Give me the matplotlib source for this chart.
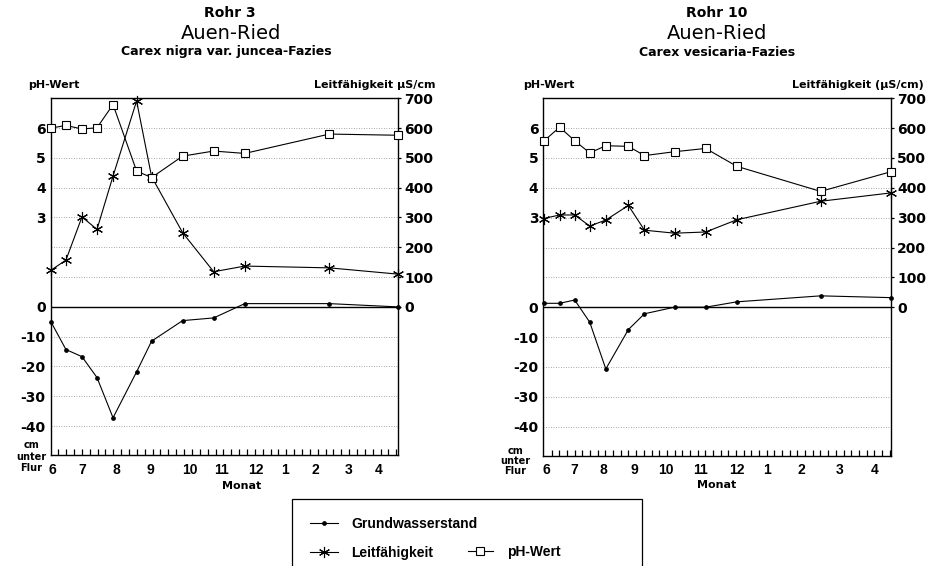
import numpy as np
import matplotlib
matplotlib.use("Agg")
import matplotlib.pyplot as plt
from matplotlib.lines import Line2D

W, H = 935, 566

# x values are days counted from the "6" (June) label of each panel
months = ['6', '7', '8', '9', '10', '11', '12', '1', '2', '3', '4']

# Rohr 3 - Carex nigra var. juncea-Fazies
days_r3 = [-1, 13, 28, 42, 57, 79, 93, 122, 151, 180, 259, 323]
ph_r3 = [6.00, 6.09, 5.97, 6.01, 6.79, 4.56, 4.34, 5.06, 5.23, 5.15, 5.80, 5.76]
cond_r3 = [123, 157, 302, 260, 439, 691, 437, 249, 118, 137, 131, 110]
gw_r3 = [-5.0, -14.3, -16.7, -23.7, -37.2, -21.8, -11.5, -4.6, -3.7, 1.1, 1.1, 0.0]
month_pos_r3 = [0, 28, 60, 92, 129, 158, 190, 218, 246, 277, 305]

# Rohr 10 - Carex vesicaria-Fazies
days_r10 = [-3, 12, 26, 40, 55, 76, 91, 119, 148, 177, 255, 320.5]
ph_r10 = [5.56, 6.03, 5.58, 5.17, 5.41, 5.39, 5.08, 5.21, 5.32, 4.72, 3.88, 4.54]
cond_r10 = [297, 309, 309, 272, 292, 341, 258, 248, 252, 293, 355, 383]
gw_r10 = [1.3, 1.3, 2.4, -5.0, -20.7, -7.5, -2.2, 0.0, 0.0, 1.8, 3.8, 3.2]
month_pos_r10 = [0, 26, 53, 82, 111, 143, 177, 205, 237, 273, 305]

plt.rcParams['font.family'] = ['DejaVu Sans']

fig = plt.figure(figsize=(W / 100, H / 100), dpi=100)

GW_STYLE = dict(color='black', lw=0.8, marker='o', ms=2.4)
COND_STYLE = dict(color='black', lw=0.8, marker=(6, 2, 0), ms=8, mew=0.8)
PH_STYLE = dict(color='black', lw=0.8, marker='s', ms=6, mfc='white', mec='black', mew=0.8)
GRID = dict(color='0.55', lw=0.6, ls=(0, (1, 2)))
NUM = dict(fontweight='bold', fontsize=10, fontfamily='DejaVu Sans')


def panel(box, days, ph, cond, gw, month_pos, xlim, minor):
    l, r, t, b = box
    ax = fig.add_axes([l / W, 1 - b / H, (r - l) / W, (b - t) / H])
    ax_c = ax.twinx()
    ax_p = ax.twinx()

    ax.set_xlim(xlim)
    ax.set_ylim(-49.7, 70)
    ax_c.set_ylim(-497, 700)
    ax_p.set_ylim(-4.97, 7.0)

    # groundwater ticks (cm) on the left, grid lines at every 10 cm / 100 uS
    gw_ticks = list(range(-40, 61, 10))
    ax.set_yticks(gw_ticks, labels=[str(v) if v <= 0 else '' for v in gw_ticks], **NUM)
    ax.tick_params(axis='y', length=0, pad=3.5)
    ax.grid(axis='y', **GRID)
    ax.set_axisbelow(True)
    ax.axhline(0, color='black', lw=1.0)

    ax_p.yaxis.tick_left()
    ax_p.set_yticks([3, 4, 5, 6], labels=['3', '4', '5', '6'], **NUM)
    ax_p.tick_params(axis='y', length=0, pad=3.5)

    ax_c.set_yticks(range(0, 701, 100), labels=[str(v) for v in range(0, 701, 100)], **NUM)
    ax_c.tick_params(axis='y', direction='out', length=2.5, width=0.9, pad=2)

    ax.set_xticks(month_pos, labels=months, fontweight='bold', fontsize=10,
                  fontfamily='Liberation Sans')
    ax.set_xticks(minor, minor=True)
    ax.tick_params(axis='x', which='major', length=0, pad=5.5)
    ax.tick_params(axis='x', which='minor', direction='in', length=4.5, width=0.9)

    for a in (ax_c, ax_p):
        for s in a.spines.values():
            s.set_visible(False)
    for s in ax.spines.values():
        s.set_linewidth(1.0)

    ax.plot(days, gw, clip_on=False, **GW_STYLE)
    ax_c.plot(days, cond, clip_on=False, **COND_STYLE)
    ax_p.plot(days, ph, clip_on=False, **PH_STYLE)
    return ax


panel((50.5, 398.3, 98.3, 455.0), days_r3, ph_r3, cond_r3, gw_r3, month_pos_r3,
      (-1.4, 323.4), np.arange(5.9, 323, 7.34))
panel((543.3, 891.0, 98.3, 455.5), days_r10, ph_r10, cond_r10, gw_r10, month_pos_r10,
      (-3.2, 320.5), np.arange(4.6, 320, 7.15))


def ftext(x, y, s, **kw):
    fig.text(x / W, 1 - y / H, s, **kw)


# titles
ftext(230, 17.3, 'Rohr 3', ha='center', va='baseline', fontsize=10, fontweight='bold')
ftext(231, 39.3, 'Auen-Ried', ha='center', va='baseline', fontsize=14)
ftext(226, 55.5, 'Carex nigra var. juncea-Fazies', ha='center', va='baseline',
      fontsize=9, fontweight='bold')
ftext(716.7, 17.3, 'Rohr 10', ha='center', va='baseline', fontsize=10, fontweight='bold')
ftext(716.7, 39.3, 'Auen-Ried', ha='center', va='baseline', fontsize=14)
ftext(717.5, 55.5, 'Carex vesicaria-Fazies', ha='center', va='baseline',
      fontsize=9, fontweight='bold')

LAB = dict(fontsize=8, fontweight='bold', va='baseline')
ftext(28, 88.3, 'pH-Wert', ha='left', **LAB)
ftext(435, 88.3, 'Leitfähigkeit µS/cm', ha='right', **LAB)
ftext(523.3, 87.5, 'pH-Wert', ha='left', **LAB)
ftext(923.3, 87.5, 'Leitfähigkeit (µS/cm)', ha='right', **LAB)
ftext(242, 489, 'Monat', ha='center', **LAB)
ftext(716.3, 488.3, 'Monat', ha='center', **LAB)
ftext(31, 456.5, 'cm\nunter\nFlur', ha='center', ma='center', linespacing=1.2,
      fontsize=7, fontweight='bold', va='center')
ftext(515, 461, 'cm\nunter\nFlur', ha='center', ma='center', linespacing=1.05,
      fontsize=7, fontweight='bold', va='center')

# legend
LEG_FONT = dict(family='Liberation Sans', weight='bold', size=10)
h_gw = Line2D([], [], **GW_STYLE)
h_cond = Line2D([], [], **COND_STYLE)
h_ph = Line2D([], [], **PH_STYLE)
leg = fig.legend(handles=[h_gw, h_cond], labels=['Grundwasserstand', 'Leitfähigkeit'],
                 loc='upper left', bbox_to_anchor=(291.7 / W, 0, 350 / W, 1 - 499.3 / H),
                 mode='expand', frameon=True, fancybox=False, edgecolor='black',
                 framealpha=1, prop=LEG_FONT, handlelength=2.0, handletextpad=1.0,
                 borderpad=1.3, labelspacing=1.05, borderaxespad=0)
leg.get_frame().set_linewidth(0.9)
fig.legend(handles=[h_ph], labels=['pH-Wert'], loc='center left',
           bbox_to_anchor=(468 / W, 1 - 551.7 / H), frameon=False, prop=LEG_FONT,
           handlelength=1.8, handletextpad=1.0, borderpad=0, borderaxespad=0)

fig.savefig('out.png', dpi=100)
